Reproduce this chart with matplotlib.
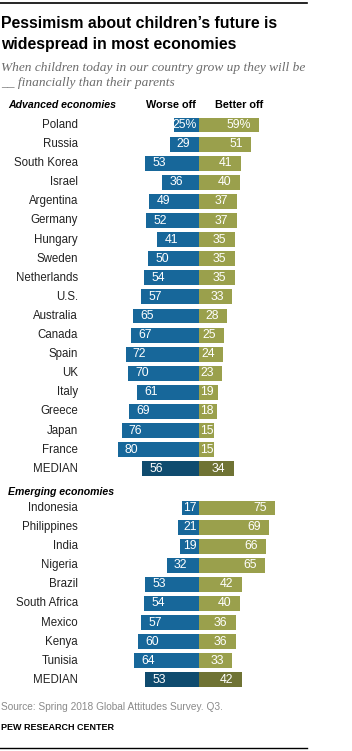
import matplotlib
matplotlib.use("Agg")
import matplotlib.pyplot as plt
from matplotlib.lines import Line2D

# ---- data ----
adv_countries = ["Poland", "Russia", "South Korea", "Israel", "Argentina", "Germany",
                 "Hungary", "Sweden", "Netherlands", "U.S.", "Australia", "Canada",
                 "Spain", "UK", "Italy", "Greece", "Japan", "France", "MEDIAN"]
adv_worse = [25, 29, 53, 36, 49, 52, 41, 50, 54, 57, 65, 67, 72, 70, 61, 69, 76, 80, 56]
adv_better = [59, 51, 41, 40, 37, 37, 35, 35, 35, 33, 28, 25, 24, 23, 19, 18, 15, 15, 34]

emg_countries = ["Indonesia", "Philippines", "India", "Nigeria", "Brazil", "South Africa",
                 "Mexico", "Kenya", "Tunisia", "MEDIAN"]
emg_worse = [17, 21, 19, 32, 53, 54, 57, 60, 64, 53]
emg_better = [75, 69, 66, 65, 42, 40, 36, 36, 33, 42]

# ---- style ----
W, H = 352, 751
DPI = 100
BLUE = "#17679a"
GREEN = "#9aa04c"
BLUE_MED = "#0f4b6e"
GREEN_MED = "#6f7334"
FONT = "Liberation Sans"
PXU = 1.015          # pixels per percentage point
ZERO_PX = 199        # pixel position of zero line

fig = plt.figure(figsize=(W / DPI, H / DPI), dpi=DPI)

def fy(px):
    return 1 - px / H

def fx(px):
    return px / W

def text_w(s):
    w = 0
    for ch in s:
        w += 8.5 if ch == "%" else 6.4
    return w / PXU

def panel(countries, worse, better, first_center, spacing=19.1):
    n = len(countries)
    top = first_center - spacing / 2
    bot = first_center + spacing * (n - 0.5)
    ax = fig.add_axes([0, fy(bot), 1, (bot - top) / H])
    ax.set_xlim(-ZERO_PX / PXU, (W - ZERO_PX) / PXU)
    ax.set_ylim(n - 0.5, -0.5)
    ax.axis("off")
    for i, (c, w, b) in enumerate(zip(countries, worse, better)):
        med = c == "MEDIAN"
        ax.barh(i, -w, height=0.78, color=BLUE_MED if med else BLUE, lw=0)
        ax.barh(i, b, height=0.78, color=GREEN_MED if med else GREEN, lw=0)
        ax.text((78 - ZERO_PX) / PXU, i, c, ha="right", va="center",
                fontsize=8.3, family=FONT, color="#222222")
        pct = i == 0 and countries[0] == "Poland"
        ws = f"{w}%" if pct else str(w)
        bs = f"{b}%" if pct else str(b)
        x0 = -w + 7 / PXU
        if x0 + text_w(ws) > -2 / PXU:
            ax.text(-2 / PXU, i, ws, ha="right", va="center", fontsize=8.8,
                    family=FONT, color="white")
        else:
            ax.text(x0, i, ws, ha="left", va="center", fontsize=8.8,
                    family=FONT, color="white")
        x1 = b - 8 / PXU
        if x1 - text_w(bs) < 1 / PXU:
            ax.text(1 / PXU, i, bs, ha="left", va="center", fontsize=8.8,
                    family=FONT, color="white")
        else:
            ax.text(x1, i, bs, ha="right", va="center", fontsize=8.8,
                    family=FONT, color="white")
    return ax

panel(adv_countries, adv_worse, adv_better, 125)
panel(emg_countries, emg_worse, emg_better, 508)

# ---- texts ----
fig.add_artist(Line2D([0, fx(307)], [fy(3), fy(3)], color="black", lw=1.2))
fig.add_artist(Line2D([0, fx(307)], [fy(748), fy(748)], color="black", lw=1.0))

fig.text(fx(1), fy(28.5), "Pessimism about children\u2019s future is", ha="left",
         va="baseline", fontsize=11.4, fontweight="bold", family=FONT, color="black")
fig.text(fx(1), fy(48.5), "widespread in most economies", ha="left",
         va="baseline", fontsize=11.4, fontweight="bold", family=FONT, color="black")
fig.text(fx(1), fy(70.5), "When children today in our country grow up they will be",
         ha="left", va="baseline", fontsize=9.6, style="italic",
         family="Liberation Serif", color="#6b6b6b")
fig.text(fx(1), fy(86), "__ financially than their parents",
         ha="left", va="baseline", fontsize=9.6, style="italic",
         family="Liberation Serif", color="#6b6b6b")

fig.text(fx(8), fy(108.5), "Advanced economies", ha="left", va="baseline",
         fontsize=7.6, fontweight="bold", style="italic", family=FONT, color="black")
fig.text(fx(171), fy(108.5), "Worse off", ha="center", va="baseline",
         fontsize=7.8, fontweight="bold", family=FONT, color="black")
fig.text(fx(239), fy(108.5), "Better off", ha="center", va="baseline",
         fontsize=7.8, fontweight="bold", family=FONT, color="black")
fig.text(fx(8), fy(495), "Emerging economies", ha="left", va="baseline",
         fontsize=7.6, fontweight="bold", style="italic", family=FONT, color="black")

fig.text(fx(1), fy(710.5), "Source: Spring 2018 Global Attitudes Survey. Q3.",
         ha="left", va="baseline", fontsize=7.3, family=FONT, color="#8a8a8a")
fig.text(fx(1), fy(729.5), "PEW RESEARCH CENTER", ha="left", va="baseline",
         fontsize=6.5, fontweight="bold", family=FONT, color="black")

fig.savefig("out.png", dpi=DPI)
